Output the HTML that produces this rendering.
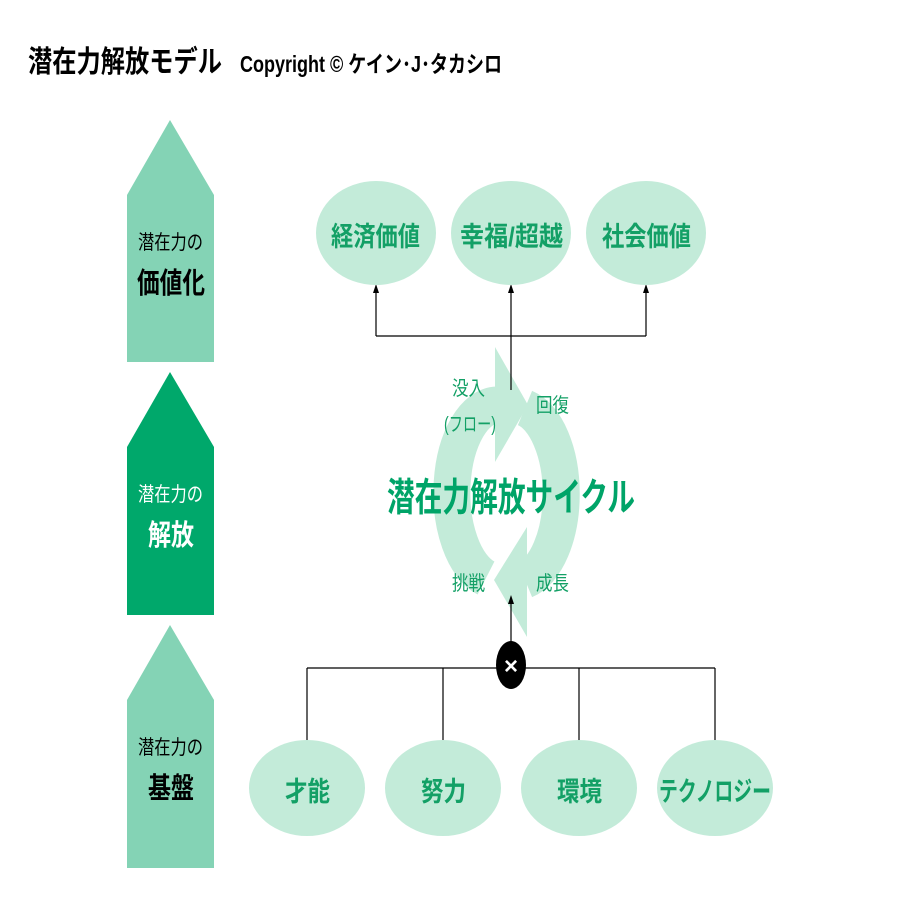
<!DOCTYPE html>
<html><head><meta charset="utf-8"><style>html,body{margin:0;padding:0;background:#fff}svg{display:block}</style></head>
<body>
<svg width="900" height="900" viewBox="0 0 900 900" xmlns="http://www.w3.org/2000/svg" font-family="'Liberation Sans','Noto Sans CJK JP',sans-serif">
<text x="28" y="72" font-size="30" font-weight="bold" textLength="194" lengthAdjust="spacingAndGlyphs">潜在力解放モデル</text>
<text x="240" y="72" font-size="23" font-weight="bold" textLength="262" lengthAdjust="spacingAndGlyphs">Copyright © ケイン･J･タカシロ</text>
<polygon points="127,195 170,120 214,195 214,362 127,362" fill="#84d3b5"/>
<polygon points="127,447 170,372 214,447 214,615 127,615" fill="#00a86b"/>
<polygon points="127,700 170,625 214,700 214,868 127,868" fill="#84d3b5"/>
<text x="138" y="249" font-size="20" textLength="65" lengthAdjust="spacingAndGlyphs">潜在力の</text>
<text x="137" y="293" font-size="29" font-weight="bold" textLength="68" lengthAdjust="spacingAndGlyphs">価値化</text>
<text x="138" y="501" font-size="20" fill="#fff" textLength="65" lengthAdjust="spacingAndGlyphs">潜在力の</text>
<text x="148" y="545" font-size="29" font-weight="bold" fill="#fff" textLength="46" lengthAdjust="spacingAndGlyphs">解放</text>
<text x="138" y="754" font-size="20" textLength="65" lengthAdjust="spacingAndGlyphs">潜在力の</text>
<text x="148" y="798" font-size="29" font-weight="bold" textLength="46" lengthAdjust="spacingAndGlyphs">基盤</text>
<g fill="none" stroke="#c3ebd9" stroke-width="37">
<path d="M 486,578 A 46 88 0 0 1 497,405"/>
<path d="M 525,408 A 46 88 0 0 1 525,580"/>
</g>
<polygon points="495,347 528,405 495,462" fill="#c3ebd9"/>
<polygon points="527,527 494,580 527,637" fill="#c3ebd9"/>
<g stroke="#000" stroke-width="1.2" fill="none">
<line x1="376" y1="336" x2="646" y2="336"/>
<line x1="376" y1="336" x2="376" y2="290"/>
<line x1="511" y1="390" x2="511" y2="290"/>
<line x1="646" y1="336" x2="646" y2="290"/>
<line x1="307" y1="668" x2="715" y2="668"/>
<line x1="307" y1="668" x2="307" y2="742"/>
<line x1="443" y1="668" x2="443" y2="742"/>
<line x1="579" y1="668" x2="579" y2="742"/>
<line x1="715" y1="668" x2="715" y2="742"/>
<line x1="511" y1="645" x2="511" y2="600"/>
</g>
<g fill="#000">
<polygon points="373,293 376,284 379,293"/>
<polygon points="508,293 511,284 514,293"/>
<polygon points="643,293 646,284 649,293"/>
<polygon points="508,604 511,595 514,604"/>
</g>
<ellipse cx="511" cy="665" rx="15" ry="24" fill="#000"/>
<text x="511" y="674" font-size="24" font-weight="bold" fill="#fff" text-anchor="middle">×</text>
<g fill="#c3ebd9">
<ellipse cx="376" cy="233" rx="60" ry="52"/><ellipse cx="511" cy="233" rx="60" ry="52"/><ellipse cx="646" cy="233" rx="60" ry="52"/>
<ellipse cx="307" cy="788" rx="58" ry="48"/><ellipse cx="443" cy="788" rx="58" ry="48"/><ellipse cx="579" cy="788" rx="58" ry="48"/><ellipse cx="715" cy="788" rx="58" ry="48"/>
</g>
<g fill="#13a066" font-weight="bold" font-size="27">
<text x="331" y="246" textLength="89" lengthAdjust="spacingAndGlyphs">経済価値</text>
<text x="460" y="246" textLength="103" lengthAdjust="spacingAndGlyphs">幸福/超越</text>
<text x="602" y="246" textLength="89" lengthAdjust="spacingAndGlyphs">社会価値</text>
<text x="285" y="801" textLength="45" lengthAdjust="spacingAndGlyphs">才能</text>
<text x="421" y="801" textLength="45" lengthAdjust="spacingAndGlyphs">努力</text>
<text x="557" y="801" textLength="45" lengthAdjust="spacingAndGlyphs">環境</text>
<text x="659" y="801" textLength="112" lengthAdjust="spacingAndGlyphs">テクノロジー</text>
</g>
<g fill="#13a066" font-size="20">
<text x="452" y="395" textLength="33" lengthAdjust="spacingAndGlyphs">没入</text>
<text x="444" y="431" textLength="52" lengthAdjust="spacingAndGlyphs">(フロー)</text>
<text x="536" y="412" textLength="33" lengthAdjust="spacingAndGlyphs">回復</text>
<text x="452" y="590" textLength="33" lengthAdjust="spacingAndGlyphs">挑戦</text>
<text x="536" y="590" textLength="33" lengthAdjust="spacingAndGlyphs">成長</text>
</g>
<text x="387" y="511" font-size="39" font-weight="bold" fill="#00a468" textLength="248" lengthAdjust="spacingAndGlyphs">潜在力解放サイクル</text>
</svg>
</body></html>
